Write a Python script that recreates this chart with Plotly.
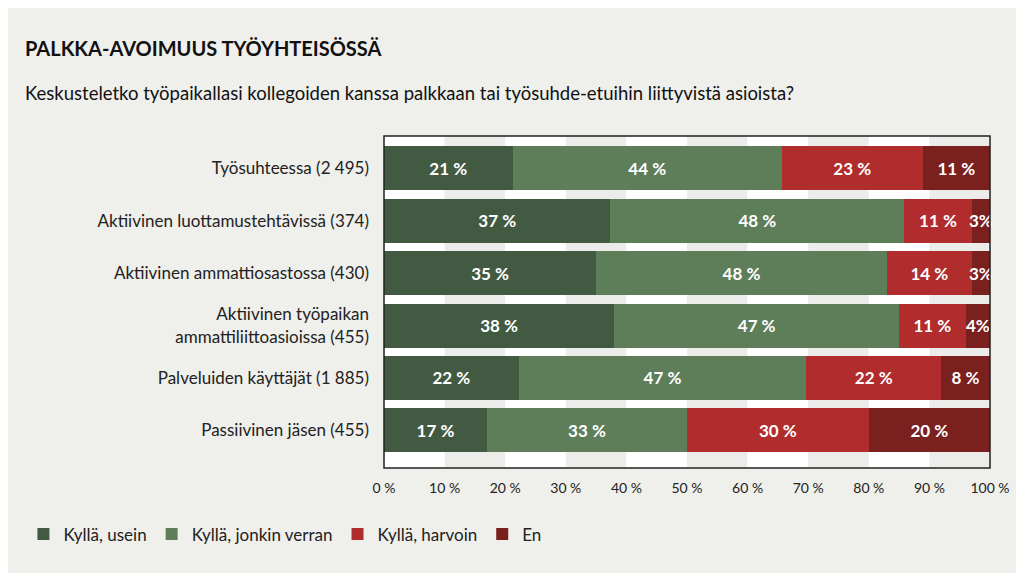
import plotly.graph_objects as go

categories = ["Työsuhteessa (2 495)", "Aktiivinen luottamustehtävissä (374)",
              "Aktiivinen ammattiosastossa (430)", "Aktiivinen työpaikan<br>ammattiliittoasioissa (455)",
              "Palveluiden käyttäjät (1 885)", "Passiivinen jäsen (455)"]
series_names = ["Kyllä, usein", "Kyllä, jonkin verran", "Kyllä, harvoin", "En"]
values = [
    [21, 37, 35, 38, 22, 17],
    [44, 48, 48, 47, 47, 33],
    [23, 11, 14, 11, 22, 30],
    [11, 3, 3, 4, 8, 20],
]
labels = [
    ["21 %", "37 %", "35 %", "38 %", "22 %", "17 %"],
    ["44 %", "48 %", "48 %", "47 %", "47 %", "33 %"],
    ["23 %", "11 %", "14 %", "11 %", "22 %", "30 %"],
    ["11 %", "3%", "3%", "4%", "8 %", "20 %"],
]
colors = ["#435a42", "#5e7d59", "#b02c2d", "#7a201f"]
tick_vals = [0, 10, 20, 30, 40, 50, 60, 70, 80, 90, 100]
tick_text = [f"{v} %" for v in tick_vals]

totals = [sum(values[s][i] for s in range(4)) for i in range(len(categories))]
ypos = list(range(len(categories)))

fig = go.Figure()
for s in range(4):
    fig.add_trace(go.Bar(
        y=ypos, x=[values[s][i] * 100 / totals[i] for i in ypos], orientation="h",
        name=series_names[s], marker=dict(color=colors[s], line=dict(width=0)),
        text=[f"<b>{t}</b>" for t in labels[s]], textposition="inside", insidetextanchor="middle",
        textangle=0, constraintext="none",
        textfont=dict(color="white", size=17, family="Lato"),
        hoverinfo="skip", cliponaxis=False))

for i in range(10):
    fig.add_shape(type="rect", xref="x", yref="paper", x0=i * 10, x1=i * 10 + 10, y0=0, y1=1,
                  fillcolor="white" if i % 2 == 0 else "#ececea", line=dict(width=0), layer="below")
fig.add_shape(type="rect", xref="paper", yref="paper", x0=0, x1=1, y0=0, y1=1,
              line=dict(color="#222", width=1.5), layer="above")

fig.update_layout(
    width=1024, height=573, barmode="stack", bargap=0.16,
    paper_bgcolor="#efefeb", plot_bgcolor="white",
    margin=dict(l=376, r=42, t=128, b=113),
    font=dict(family="Lato", color="#222"),
    xaxis=dict(range=[0, 100], tickvals=tick_vals, ticktext=tick_text, showgrid=False,
               zeroline=False, tickfont=dict(size=14), ticks="", ticklabelstandoff=10),
    yaxis=dict(tickvals=ypos, ticktext=categories, range=[5.72, -0.62], showgrid=False,
               zeroline=False, tickfont=dict(size=17), ticks="", ticklabelstandoff=14),
    showlegend=True,
    legend=dict(orientation="h", x=-0.595, y=-0.2, xanchor="left", yanchor="middle",
                font=dict(size=17), traceorder="normal", bgcolor="rgba(0,0,0,0)"),
    annotations=[
        dict(text="<b>PALKKA-AVOIMUUS TYÖYHTEISÖSSÄ</b>", xref="paper", yref="paper",
             x=-0.595, y=1.265, xanchor="left", yanchor="middle", showarrow=False,
             font=dict(size=20, color="#111")),
        dict(text="Keskusteletko työpaikallasi kollegoiden kanssa palkkaan tai työsuhde-etuihin liittyvistä asioista?",
             xref="paper", yref="paper", x=-0.595, y=1.13, xanchor="left", yanchor="middle",
             showarrow=False, font=dict(size=18.5, color="#111")),
    ],
)
fig.write_html("out.html")
